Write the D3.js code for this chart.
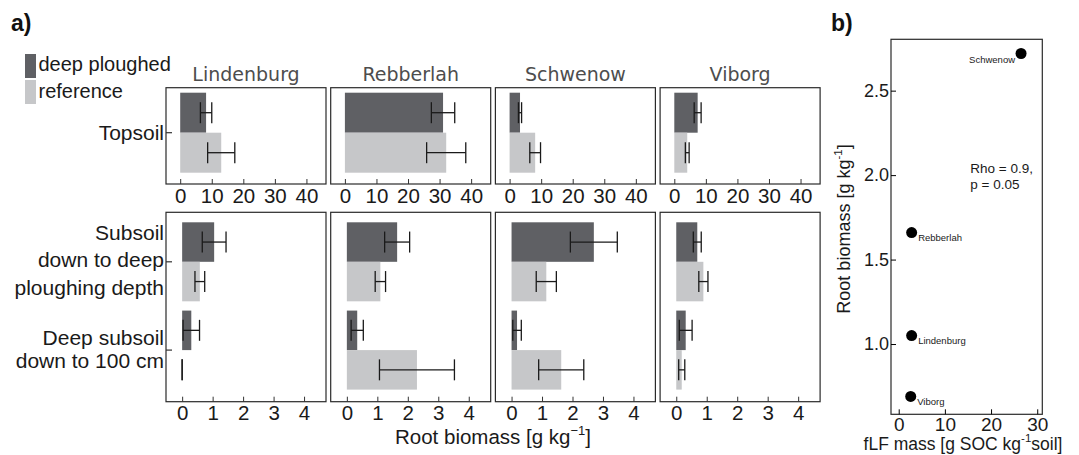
<!DOCTYPE html>
<html><head><meta charset="utf-8">
<script src="https://cdn.jsdelivr.net/npm/d3@7"></script>
<style>
body{margin:0;background:#fff;}
svg{display:block;font-family:"Liberation Sans",Arial,sans-serif;}
</style></head>
<body><svg id="c" width="1079" height="455"></svg>
<script>
// ---------- data ----------
const sites = ["Lindenburg", "Rebberlah", "Schwenow", "Viborg"];
const treatments = ["deep ploughed", "reference"];
const topTicks = [0, 10, 20, 30, 40];
const subTicks = [0, 1, 2, 3, 4];

const topsoilDeep = [8.2, 31.1, 3.3, 7.4];
const topsoilDeepSE = [1.8, 3.7, 0.5, 1.1];
const topsoilRef = [13.0, 32.1, 8.1, 4.1];
const topsoilRefSE = [4.3, 6.2, 1.7, 0.6];

const subsoilDeep = [1.05, 1.65, 2.7, 0.69];
const subsoilDeepSE = [0.39, 0.41, 0.77, 0.13];
const subsoilRef = [0.58, 1.1, 1.14, 0.89];
const subsoilRefSE = [0.16, 0.17, 0.33, 0.15];

const deepsubDeep = [0.3, 0.34, 0.18, 0.31];
const deepsubDeepSE = [0.27, 0.2, 0.14, 0.21];
const deepsubRef = [0, 2.3, 1.63, 0.18];
const deepsubRefSE = [0, 1.23, 0.74, 0.1];

// panel b
const scatterSites = ["Lindenburg", "Rebberlah", "Schwenow", "Viborg"];
const fLFmass = [2.8, 2.8, 26.5, 2.6];
const rootBiomass = [1.05, 1.66, 2.72, 0.69];
const bXTicks = [0, 10, 20, 30];
const bYTicks = [1.0, 1.5, 2.0, 2.5];

// ---------- drawing ----------
const svg = d3.select("#c");
const colors = d3.scaleOrdinal().domain(treatments).range(["#5f6064", "#c6c7c9"]);
const boxColor = "#2a2a2a";
const txt = "#1a1a1a";

svg.append("text").attr("x", 11).attr("y", 31).attr("font-size", 23).attr("font-weight", "bold").attr("fill", "#111").text("a)");
svg.append("text").attr("x", 831).attr("y", 31).attr("font-size", 23).attr("font-weight", "bold").attr("fill", "#111").text("b)");

// legend
const leg = svg.append("g");
treatments.forEach((t, i) => {
  leg.append("rect").attr("x", 25).attr("y", 54 + i * 26).attr("width", 11).attr("height", 24).attr("fill", colors(t));
  leg.append("text").attr("x", 38.5).attr("y", 71 + i * 27).attr("font-size", 20).attr("fill", txt).text(t);
});

const panelW = 160, panelStep = 164.7, panelX0 = 166;
const rows = [
  {top: 87.7, bottom: 184, domain: [-4.5, 46.2], ticks: topTicks,
   groups: ["Topsoil"], grpRange: [92.7, 172.7], pad: 0,
   data: {"Topsoil": [[topsoilDeep, topsoilDeepSE], [topsoilRef, topsoilRefSE]]}},
  {top: 212.3, bottom: 401.7, domain: [-0.53, 4.72], ticks: subTicks,
   groups: ["Subsoil", "Deep"], grpRange: [222.3, 389.6], pad: 0.105,
   data: {"Subsoil": [[subsoilDeep, subsoilDeepSE], [subsoilRef, subsoilRefSE]],
          "Deep": [[deepsubDeep, deepsubDeepSE], [deepsubRef, deepsubRefSE]]}}
];
const groupLabels = {
  "Topsoil": {lines: ["Topsoil"], dy: [7]},
  "Subsoil": {lines: ["Subsoil", "down to deep", "ploughing depth"], dy: [-21.5, 5.5, 33]},
  "Deep": {lines: ["Deep subsoil", "down to 100 cm"], dy: [-5.5, 17.5]}
};

rows.forEach((row, ri) => {
  const yG = d3.scaleBand().domain(row.groups).range(row.grpRange).paddingInner(row.pad);
  const yT = d3.scaleBand().domain(treatments).range([0, yG.bandwidth()]);
  sites.forEach((site, si) => {
    const x0 = panelX0 + si * panelStep;
    const g = svg.append("g");
    const x = d3.scaleLinear().domain(row.domain).range([x0, x0 + panelW]);
    // bars
    row.groups.forEach(grp => {
      treatments.forEach((t, ti) => {
        const v = row.data[grp][ti][0][si];
        const se = row.data[grp][ti][1][si];
        const yb = yG(grp) + yT(t);
        const h = yT.bandwidth();
        g.append("rect").attr("x", x(0)).attr("y", yb).attr("width", Math.max(0, x(v) - x(0))).attr("height", h).attr("fill", colors(t));
        const yc = yb + h / 2, cap = 10.5;
        const eb = g.append("g").attr("stroke", "#1a1a1a").attr("stroke-width", 1.3).attr("fill", "none");
        eb.append("line").attr("x1", x(v - se)).attr("x2", x(v + se)).attr("y1", yc).attr("y2", yc);
        eb.append("line").attr("x1", x(v - se)).attr("x2", x(v - se)).attr("y1", yc - cap).attr("y2", yc + cap);
        eb.append("line").attr("x1", x(v + se)).attr("x2", x(v + se)).attr("y1", yc - cap).attr("y2", yc + cap);
      });
    });
    // box
    g.append("rect").attr("x", x0).attr("y", row.top).attr("width", panelW).attr("height", row.bottom - row.top)
      .attr("fill", "none").attr("stroke", boxColor).attr("stroke-width", 1.2);
    // x axis
    const ax = g.append("g").attr("transform", `translate(0,${row.bottom})`)
      .call(d3.axisBottom(x).tickValues(row.ticks).tickFormat(d3.format("d")).tickSizeInner(-5).tickSizeOuter(0).tickPadding(4));
    ax.select(".domain").remove();
    ax.selectAll("line").attr("stroke", "#333");
    ax.selectAll("text").attr("font-size", 20.5).attr("fill", txt).attr("font-family", "Liberation Sans, Arial, sans-serif");
    // title
    if (ri === 0) {
      g.append("text").attr("x", x0 + panelW / 2).attr("y", 81).attr("text-anchor", "middle")
        .attr("font-size", 19).attr("font-family", "DejaVu Sans, sans-serif").attr("fill", "#4d4d4d").text(site);
    }
    // y axis labels, first column only
    if (si === 0) {
      row.groups.forEach(grp => {
        const yc = yG(grp) + yG.bandwidth() / 2;
        g.append("line").attr("x1", x0).attr("x2", x0 + 6).attr("y1", yc).attr("y2", yc).attr("stroke", "#333").attr("stroke-width", 1.2);
        const gl = groupLabels[grp];
        gl.lines.forEach((ln, li) => {
          g.append("text").attr("x", x0 - 2).attr("y", yc + gl.dy[li]).attr("text-anchor", "end")
            .attr("font-size", 21).attr("fill", txt).text(ln);
        });
      });
    }
  });
});

// x label panel a
const xl = svg.append("text").attr("x", 493).attr("y", 444).attr("text-anchor", "middle").attr("font-size", 20.5).attr("fill", txt);
xl.append("tspan").text("Root biomass [g kg");
xl.append("tspan").attr("dy", -9).attr("font-size", 13).text("\u22121");
xl.append("tspan").attr("dy", 9).text("]");

// ---------- panel b ----------
const bx = d3.scaleLinear().domain([-1.67, 31.1]).range([891, 1042.3]);
const by = d3.scaleLinear().domain([0.584, 2.804]).range([414.3, 39.3]);
const gb = svg.append("g");
gb.append("rect").attr("x", 891).attr("y", 39.3).attr("width", 1042.3 - 891).attr("height", 414.3 - 39.3)
  .attr("fill", "none").attr("stroke", boxColor).attr("stroke-width", 1.2);
const bax = gb.append("g").attr("transform", "translate(0,414.3)")
  .call(d3.axisBottom(bx).tickValues(bXTicks).tickSizeInner(-5).tickSizeOuter(0).tickPadding(3));
bax.select(".domain").remove();
bax.selectAll("text").attr("font-size", 19).attr("fill", txt).attr("font-family", "Liberation Sans, Arial, sans-serif");
const bay = gb.append("g").attr("transform", "translate(891,0)")
  .call(d3.axisLeft(by).tickValues(bYTicks).tickFormat(d3.format(".1f")).tickSizeInner(-5).tickSizeOuter(0).tickPadding(2));
bay.select(".domain").remove();
bay.selectAll("text").attr("font-size", 18).attr("fill", txt).attr("font-family", "Liberation Sans, Arial, sans-serif");

scatterSites.forEach((s, i) => {
  const cx = bx(fLFmass[i]), cy = by(rootBiomass[i]);
  gb.append("circle").attr("cx", cx).attr("cy", cy).attr("r", 5.5).attr("fill", "#000");
  const left = fLFmass[i] > 20;
  gb.append("text").attr("x", left ? cx - 6 : cx + 6.5).attr("y", left ? cy + 10 : cy + 8.5)
    .attr("text-anchor", left ? "end" : "start").attr("font-size", 9.5).attr("fill", txt).text(s);
});
gb.append("text").attr("x", 970.3).attr("y", 172.7).attr("font-size", 13.5).attr("fill", txt).text("Rho = 0.9,");
gb.append("text").attr("x", 970.3).attr("y", 188.5).attr("font-size", 13.5).attr("fill", txt).text("p = 0.05");

const byl = gb.append("text").attr("transform", "translate(850,229) rotate(-90)").attr("text-anchor", "middle").attr("font-size", 18).attr("fill", txt);
byl.append("tspan").text("Root biomass [g kg");
byl.append("tspan").attr("dy", -8).attr("font-size", 11.5).text("-1");
byl.append("tspan").attr("dy", 8).text("]");

const bxl = gb.append("text").attr("x", 963).attr("y", 450).attr("text-anchor", "middle").attr("font-size", 17.5).attr("fill", txt);
bxl.append("tspan").text("fLF mass [g SOC kg");
bxl.append("tspan").attr("dy", -8).attr("font-size", 11.5).text("-1");
bxl.append("tspan").attr("dy", 8).text("soil]");
</script></body></html>
